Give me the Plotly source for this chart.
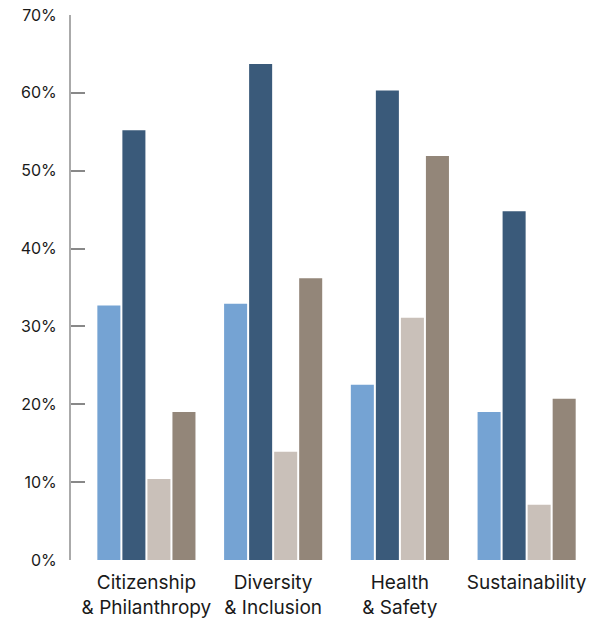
import plotly.graph_objects as go

# Categories and series values (percent)
categories = ["Citizenship<br>& Philanthropy", "Diversity<br>& Inclusion",
              "Health<br>& Safety", "Sustainability"]
series_a = [32.7, 32.9, 22.5, 19.0]
series_b = [55.2, 63.7, 60.3, 44.8]
series_c = [10.4, 13.9, 31.1, 7.1]
series_d = [19.0, 36.2, 51.9, 20.7]
tick_vals = [0, 10, 20, 30, 40, 50, 60, 70]
tick_text = ["0%", "10%", "20%", "30%", "40%", "50%", "60%", "70%"]

colors = ["#75a3d3", "#3a5a7a", "#c9c0b9", "#938679"]
font_family = "Inter, Roboto, sans-serif"

fig = go.Figure()
for vals, col in zip([series_a, series_b, series_c, series_d], colors):
    fig.add_trace(go.Bar(x=categories, y=vals, marker=dict(color=col, line=dict(width=0)),
                         showlegend=False, hoverinfo="skip"))

fig.update_layout(
    width=610, height=618,
    margin=dict(l=71, r=20, t=15, b=58, autoexpand=False),
    barmode="group", bargap=0.21, bargroupgap=0.08,
    plot_bgcolor="white", paper_bgcolor="white",
    font=dict(family=font_family, size=16, color="#1a1a1a"),
    xaxis=dict(
        type="category", range=[-0.595, 3.5], automargin=False,
        showline=False, showgrid=False, zeroline=False, ticks="",
        ticklabelstandoff=9,
        tickfont=dict(size=19, color="#1a1a1a"),
    ),
    yaxis=dict(
        range=[0, 70], tickvals=tick_vals, ticktext=tick_text, automargin=False,
        showgrid=False, zeroline=False,
        showline=True, linecolor="#aaaaaa", linewidth=2,
        ticks="inside", ticklen=14, tickcolor="#888888", tickwidth=1.5,
        ticklabelstandoff=9,
        tickfont=dict(size=16, color="#1a1a1a"),
    ),
)

fig.write_html("out.html")
